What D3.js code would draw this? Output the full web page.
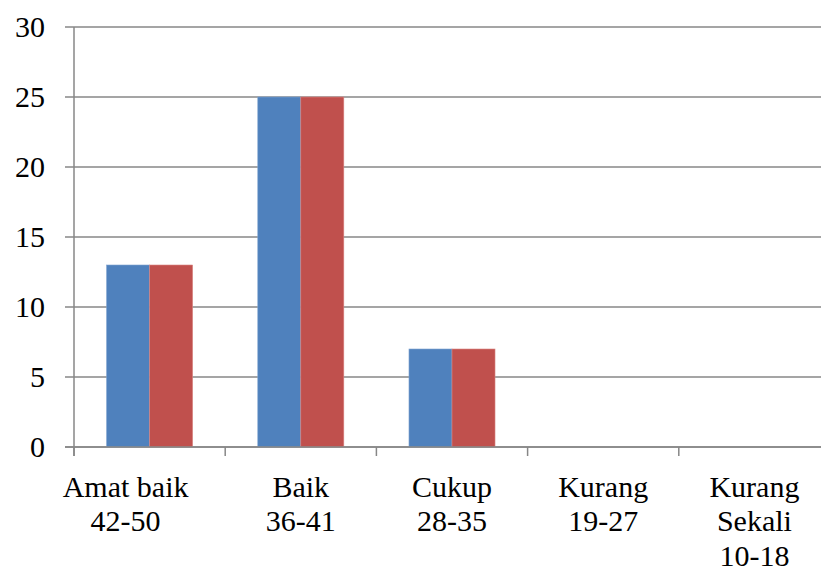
<!DOCTYPE html>
<html>
<head>
<meta charset="utf-8">
<script src="https://cdn.jsdelivr.net/npm/d3@7"></script>
<style>
  html, body { margin: 0; padding: 0; background: #fff; }
  svg { display: block; }
</style>
</head>
<body>
<svg id="chart" width="821" height="571"></svg>
<script>
// Category labels (two lines, some three)
const categories = ["Amat baik 42-50", "Baik 36-41", "Cukup 28-35", "Kurang 19-27", "Kurang Sekali 10-18"];
const categoryLines = [
  ["Amat baik", "42-50"],
  ["Baik", "36-41"],
  ["Cukup", "28-35"],
  ["Kurang", "19-27"],
  ["Kurang", "Sekali", "10-18"]
];
const seriesNames = ["Seri 1", "Seri 2"];
const series1 = [13, 25, 7, 0, 0];
const series2 = [13, 25, 7, 0, 0];
const yTicks = [0, 5, 10, 15, 20, 25, 30];
const colors = ["#4F81BD", "#C0504D"];

const FONT = "Liberation Serif, Tinos, DejaVu Serif, serif";

const svg = d3.select("#chart");
const margin = { left: 74, right: -9, top: 27, bottom: 124 };
const W = 821, H = 571;
const x0 = margin.left, x1 = W - margin.right;
const yTop = margin.top, yBot = H - margin.bottom;

const x = d3.scaleBand().domain(categories).range([x0, x1])
  .paddingInner(0.431).paddingOuter(0.2155);
const xs = d3.scaleBand().domain(seriesNames).range([0, x.bandwidth()]);
const y = d3.scaleLinear().domain([0, 30]).range([yBot, yTop]);

const gridColor = "#878787";

// Horizontal gridlines with short outward ticks
svg.append("g").selectAll("line").data(yTicks).join("line")
  .attr("x1", x0 - 9).attr("x2", x1)
  .attr("y1", d => y(d)).attr("y2", d => y(d))
  .attr("stroke", gridColor).attr("stroke-width", 1.5);

// Y axis line
svg.append("line")
  .attr("x1", x0).attr("x2", x0).attr("y1", yTop).attr("y2", yBot + 9)
  .attr("stroke", gridColor).attr("stroke-width", 1.5);

// Y tick labels
svg.append("g").selectAll("text").data(yTicks).join("text")
  .style("font-family", FONT)
  .attr("x", 45).attr("y", d => y(d)).attr("dy", "0.34em")
  .attr("text-anchor", "end").style("font-size", "30px").attr("fill", "#000")
  .text(d => d);

// Category boundary ticks on the x axis
const step = x.step();
const boundaries = d3.range(categories.length + 1).map(i => x0 + i * step);
svg.append("g").selectAll("line").data(boundaries).join("line")
  .attr("x1", d => d).attr("x2", d => d)
  .attr("y1", yBot).attr("y2", yBot + 9)
  .attr("stroke", gridColor).attr("stroke-width", 1.5);

// Bars
const data = [series1, series2];
data.forEach((vals, si) => {
  svg.append("g").selectAll("rect").data(vals).join("rect")
    .attr("x", (d, i) => x(categories[i]) + xs(seriesNames[si]))
    .attr("width", xs.bandwidth())
    .attr("y", d => y(d))
    .attr("height", d => y(0) - y(d))
    .attr("fill", colors[si])
    .attr("stroke", si === 0 ? "#7FA3D0" : "#D98683")
    .attr("stroke-width", d => d > 0 ? 0.6 : 0);
});

// Redraw baseline over the bars
svg.append("line")
  .attr("x1", x0 - 9).attr("x2", x1).attr("y1", yBot).attr("y2", yBot)
  .attr("stroke", gridColor).attr("stroke-width", 1.5);

// X category labels
const labelShift = [-24, 0, 0, 0, 0];
const lab = svg.append("g").selectAll("text").data(categories).join("text")
  .style("font-family", FONT)
  .attr("text-anchor", "middle").style("font-size", "30px").attr("fill", "#000")
  .attr("x", (d, i) => x(d) + x.bandwidth() / 2 + labelShift[i]);
lab.each(function (d, i) {
  d3.select(this).selectAll("tspan").data(categoryLines[i]).join("tspan")
    .attr("x", x(d) + x.bandwidth() / 2 + labelShift[i])
    .attr("y", (t, j) => 496.5 + j * 34.6)
    .text(t => t);
});
</script>
</body>
</html>
